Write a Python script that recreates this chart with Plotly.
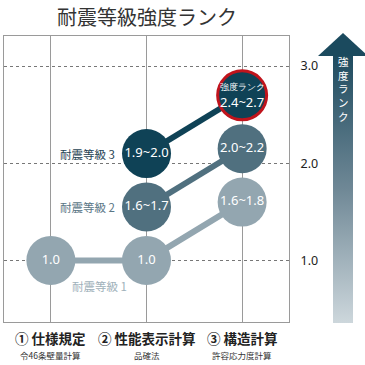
import plotly.graph_objects as go

# ---------------- data ----------------
categories = [0, 1, 2]
cat_titles = ["① 仕様規定", "② 性能表示計算", "③ 構造計算"]
cat_subs = ["令46条壁量計算", "品確法", "許容応力度計算"]

g1_x = [0, 1, 2]
g1_y = [1.0, 1.0, 1.6]
g1_text = ["1.0", "1.0", "1.6~1.8"]

g2_x = [1, 2]
g2_y = [1.55, 2.15]
g2_text = ["1.6~1.7", "2.0~2.2"]

g3_x = [1, 2]
g3_y = [2.1, 2.7]
g3_text = ["1.9~2.0", "<span style='font-size:9px'>強度ランク</span><br>2.4~2.7"]

y_ticks = [1, 2, 3]
y_ticktext = ["1.0", "2.0", "3.0"]

C1 = "#93a6b0"
C2 = "#50707f"
C3 = "#0f4256"
JP = "Noto Sans CJK JP"

W = H = 365
def px(x):
    return x / W
def py(y):
    return (H - y) / H

fig = go.Figure()

def series(xs, ys, texts, color, border_colors=None, border_widths=None):
    fig.add_trace(go.Scatter(
        x=xs, y=ys, mode="lines+markers+text", text=texts,
        textposition="middle center",
        textfont=dict(color="white", size=13, family="Noto Sans"),
        line=dict(color=color, width=6),
        marker=dict(size=49, color=color, opacity=1,
                    line=dict(color=border_colors or color, width=border_widths or 0)),
        hoverinfo="skip", showlegend=False, cliponaxis=False,
        xaxis="x", yaxis="y"))

series(g1_x, g1_y, g1_text, C1)
series(g2_x, g2_y, g2_text, C2)
series(g3_x, g3_y, g3_text, C3, border_colors=[C3, "#c0141c"], border_widths=[0, 3])

# arrow on a full-figure pixel subplot
shaft_x = [333, 353, 353, 333, 333]
shaft_y = [323, 323, 55, 55, 323]
fig.add_trace(go.Scatter(
    x=shaft_x, y=[H - v for v in shaft_y], mode="lines", fill="toself",
    line=dict(width=0), fillgradient=dict(type="vertical",
        colorscale=[[0, "#cdd7dc"], [0.5, "#6f8896"], [1, "#1e4b5f"]]),
    hoverinfo="skip", showlegend=False, xaxis="x2", yaxis="y2"))
head_x = [318, 368, 343, 318]
head_y = [56, 56, 33, 56]
fig.add_trace(go.Scatter(
    x=head_x, y=[H - v for v in head_y], mode="lines", fill="toself",
    line=dict(width=0), fillcolor="#1b4a5e",
    hoverinfo="skip", showlegend=False, xaxis="x2", yaxis="y2"))

ann = []
def A(**kw):
    kw.setdefault("showarrow", False)
    kw.setdefault("xanchor", "center")
    kw.setdefault("yanchor", "middle")
    ann.append(kw)

A(text="耐震等級強度ランク", x=px(147), y=py(16), xref="paper", yref="paper",
  font=dict(size=20, color="#333333", family=JP))
A(text="強<br>度<br>ラ<br>ン<br>ク", x=px(343), y=py(89), xref="paper", yref="paper",
  font=dict(size=10.5, color="white", family=JP), align="center")
for c, t, s in zip(categories, cat_titles, cat_subs):
    A(text="<b>" + t + "</b>", x=c, y=py(338), xref="x", yref="paper",
      font=dict(size=13.5, color="#222222", family=JP))
    A(text=s, x=c, y=py(355), xref="x", yref="paper",
      font=dict(size=8.5, color="#333333", family=JP))
A(text="耐震等級 3", x=0.38, y=g3_y[0], xref="x", yref="y",
  font=dict(size=11.5, color="#1f4354", family=JP))
A(text="耐震等級 2", x=0.38, y=g2_y[0], xref="x", yref="y",
  font=dict(size=11.5, color="#5a7685", family=JP))
A(text="耐震等級 1", x=0.51, y=0.74, xref="x", yref="y",
  font=dict(size=11.5, color="#a0b1ba", family=JP))

fig.update_layout(
    width=W, height=H, margin=dict(l=0, r=0, t=0, b=0),
    paper_bgcolor="white", plot_bgcolor="rgba(0,0,0,0)",
    annotations=ann,
    xaxis=dict(domain=[px(4), px(289)], range=[-0.49, 2.49], tickvals=categories,
               showticklabels=False, showgrid=True, gridcolor="#9a9a9a", gridwidth=1,
               zeroline=False, showline=True, mirror=True, linecolor="#9a9a9a",
               linewidth=1, fixedrange=True),
    yaxis=dict(domain=[43 / H, 329 / H], range=[0.366, 3.31], side="right",
               tickvals=y_ticks, ticktext=y_ticktext, ticklabelstandoff=8,
               tickfont=dict(size=12.5, color="#222222", family="Noto Sans"),
               showgrid=True, gridcolor="#777777", griddash="dot", gridwidth=1,
               zeroline=False, showline=True, mirror=True, linecolor="#9a9a9a",
               linewidth=1, fixedrange=True),
    xaxis2=dict(domain=[0, 1], range=[0, W], visible=False, anchor="y2", fixedrange=True),
    yaxis2=dict(domain=[0, 1], range=[0, H], visible=False, anchor="x2", fixedrange=True),
)

fig.write_html("out.html", config={"displayModeBar": False},
               post_script="document.body.style.margin='0';")
